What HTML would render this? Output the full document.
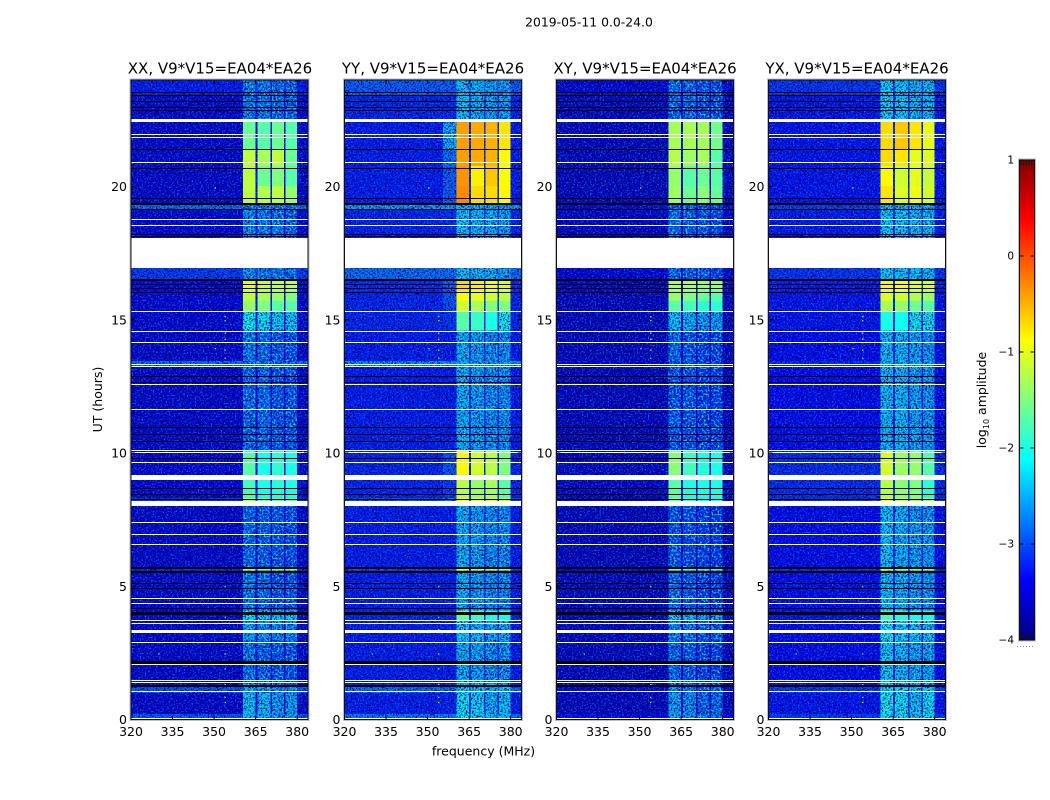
<!DOCTYPE html>
<html>
<head>
<meta charset="utf-8">
<title>2019-05-11 0.0-24.0</title>
<style>
html,body{margin:0;padding:0;background:#fff;}
svg{display:block;font-family:"DejaVu Sans","Liberation Sans",sans-serif;fill:#000;}
</style>
</head>
<body>
<svg id="chart" xmlns="http://www.w3.org/2000/svg" width="1050" height="800" viewBox="0 0 1050 800">
<defs>
<filter id="speck-dark" x="0" y="0" width="1" height="1" color-interpolation-filters="sRGB">
<feTurbulence type="fractalNoise" baseFrequency="0.62" numOctaves="2" seed="4"/>
<feColorMatrix type="matrix" values="0 0 0 0 0  0 0 0 0 0  0 0 0 0 0.42  4.5 0 0 0 -2.05"/>
<feComposite in2="SourceAlpha" operator="in"/>
</filter>
<filter id="speck-bright" x="0" y="0" width="1" height="1" color-interpolation-filters="sRGB">
<feTurbulence type="fractalNoise" baseFrequency="0.62" numOctaves="2" seed="19"/>
<feColorMatrix type="matrix" values="0 0 0 0 0  0 0 0 0 0.38  0 0 0 0 1  0 4.5 0 0 -2.35"/>
<feComposite in2="SourceAlpha" operator="in"/>
</filter>
<filter id="speck-cyan" x="0" y="0" width="1" height="1" color-interpolation-filters="sRGB">
<feTurbulence type="fractalNoise" baseFrequency="0.5" numOctaves="2" seed="31"/>
<feColorMatrix type="matrix" values="0 0 0 0 0  0 0 0 0 0.85  0 0 0 0 0.95  0 5 0 0 -2.6"/>
<feComposite in2="SourceAlpha" operator="in"/>
</filter>
</defs>
<text x="589" y="26.5" font-size="12.4" text-anchor="middle">2019-05-11 0.0-24.0</text>
<text x="483.5" y="755.5" font-size="12.5" text-anchor="middle">frequency (MHz)</text>
<text x="0" y="0" font-size="12.5" text-anchor="middle" transform="translate(102,399.5) rotate(-90)">UT (hours)</text>
<text x="0" y="0" font-size="12.5" text-anchor="middle" transform="translate(986,400) rotate(-90)">log<tspan font-size="8" dy="3">10</tspan><tspan dy="-3"> amplitude</tspan></text>
</svg>
<script>
// Frequency channel boundaries (MHz) and the band each column belongs to.
const freqEdges = [320, 355.5, 360.5, 365, 365.7, 370.3, 370.9, 375.2, 375.8, 380, 383.8];
const columnKinds = ['bg', 'shoulder', 'b0', 'gap', 'b1', 'gap', 'b2', 'gap', 'b3', 'bg'];

// Time row boundaries (UT hours).
const rowEdges = [0, .2, 1, 1.27, 2.96, 3.71, 4.09, 5.59, 5.7, 8.1, 8.32, 9, 9.19, 10.09, 13.24, 13.46, 14.59, 15.34, 15.71, 16.09, 16.54, 16.95, 18.08, 19.16, 19.35, 20.02, 20.77, 21.41, 22.42, 23.4, 24];

// log10 amplitude of the out-of-band background, per time row.
const xxBackground = [-2.9, -3.6, -2.9, -3.6, -3.6, -3.55, -3.6, -3.1, -3.6, -3.1, -3.55, -3.55, -3.55, -3.6, -2.75, -3.6, -3.55, -3.55, -3.55, -3.5, -3.05, -3.4, -3.55, -2.75, -3.6, -3.6, -3.6, -3.6, -3.55, -3.25];
const yyBackground = [-2.7, -3.25, -2.75, -3.25, -3.25, -3.2, -3.25, -2.9, -3.25, -2.9, -3.2, -3.2, -3.2, -3.25, -2.55, -3.25, -3.2, -3.2, -3.2, -3.15, -2.75, -3.1, -3.2, -2.5, -3.25, -3.25, -3.25, -3.25, -3.2, -2.85];
const xyBackground = [-3.4, -3.7, -3.5, -3.7, -3.7, -3.7, -3.7, -3.35, -3.7, -3.45, -3.65, -3.65, -3.65, -3.7, -3.55, -3.7, -3.7, -3.7, -3.7, -3.65, -3.55, -3.6, -3.65, -3.45, -3.7, -3.7, -3.7, -3.7, -3.65, -3.55];
const yxBackground = [-3.05, -3.3, -3.05, -3.35, -3.35, -3.3, -3.35, -3.05, -3.35, -3.1, -3.15, -3.15, -3.15, -3.35, -3.15, -3.35, -3.3, -3.3, -3.3, -3.25, -3.1, -3.2, -3.25, -3.05, -3.3, -3.3, -3.3, -3.3, -3.3, -3.1];

// Shoulder below the band in YY (only differs from background in the strong hours).
const yyShoulder = [-2.7, -3.2, -2.75, -3.25, -3.25, -3.15, -3.25, -2.9, -3.25, -2.75, -3.05, -3.05, -2.9, -3.25, -2.55, -3.25, -3.1, -2.95, -2.9, -2.8, -2.75, -3.1, -3.15, -2.5, -2.85, -2.85, -2.75, -2.4, -3.2, -2.85];

// log10 amplitude of the four in-band blocks, per time row.
const xxBands = [[-2.4,-2.45,-2.65,-2.6],[-2.4,-2.45,-2.65,-2.6],[-2.5,-2.6,-2.7,-2.6],[-2.8,-2.9,-3,-3],[-2.55,-2.65,-2.75,-2.75],[-2.2,-2.3,-2.4,-2.3],[-2.8,-2.9,-3,-3],[-1.2,-1.5,-1.6,-1.6],[-2.9,-2.95,-3,-3.05],[-1.3,-1.6,-1.7,-1.7],[-1.8,-2,-1.95,-2],[-1.8,-2,-1.95,-2],[-1.7,-2,-1.9,-2],[-2.9,-2.9,-3,-3],[-2.85,-2.85,-2.95,-2.95],[-2.8,-2.9,-3,-3],[-2.1,-2.2,-2.35,-2.35],[-1.4,-1.5,-1.7,-1.7],[-1.2,-1.3,-1.4,-1.5],[-1,-1.1,-1.2,-1.2],[-2.7,-2.8,-2.8,-2.9],[-2.7,-2.8,-2.8,-2.9],[-2.7,-2.8,-2.8,-2.9],[-2.8,-2.8,-2.9,-2.9],[-1.2,-1.25,-1.2,-1.4],[-1.2,-1.6,-1.5,-1.7],[-1.2,-1.3,-1.2,-1.6],[-1.6,-1.7,-1.6,-1.7],[-2.8,-2.8,-2.9,-2.9],[-2.75,-2.8,-2.85,-2.9]];
const yyBands = [[-2.15,-2.25,-2.4,-2.4],[-2.2,-2.3,-2.5,-2.4],[-2.3,-2.4,-2.5,-2.4],[-2.5,-2.6,-2.7,-2.7],[-2.35,-2.45,-2.55,-2.55],[-1.6,-1.8,-2,-2],[-2.5,-2.6,-2.7,-2.7],[-.9,-1.2,-1.3,-1.3],[-2.5,-2.6,-2.7,-2.7],[-.9,-1,-1.1,-1.1],[-1.2,-1.4,-1.3,-1.7],[-1.2,-1.4,-1.3,-1.7],[-.85,-1.1,-1.2,-1.5],[-2.5,-2.6,-2.7,-2.7],[-2.5,-2.6,-2.7,-2.7],[-2.5,-2.6,-2.7,-2.7],[-1.7,-1.85,-2,-2.1],[-1.1,-1.3,-1.5,-1.5],[-.9,-1,-1.1,-1.2],[-.7,-.8,-.9,-1],[-2.4,-2.5,-2.5,-2.6],[-2.4,-2.5,-2.5,-2.6],[-2.4,-2.5,-2.5,-2.6],[-2.5,-2.5,-2.6,-2.6],[-.3,-.7,-.7,-.85],[-.35,-.8,-.6,-.9],[-.4,-.45,-.5,-.85],[-.4,-.45,-.5,-.75],[-2.4,-2.5,-2.6,-2.6],[-2.4,-2.5,-2.6,-2.6]];
const xyBands = [[-2.55,-2.65,-2.85,-2.85],[-2.6,-2.7,-2.9,-2.9],[-2.65,-2.75,-2.9,-2.9],[-2.9,-3,-3.1,-3.1],[-2.75,-2.85,-2.95,-2.95],[-2.35,-2.45,-2.55,-2.55],[-2.9,-3,-3.1,-3.1],[-1.5,-1.8,-1.9,-1.9],[-3,-3.05,-3.1,-3.15],[-1.6,-1.8,-2,-2],[-1.7,-2,-2,-2],[-1.7,-2,-2,-2],[-1.45,-1.8,-1.95,-2],[-3,-3,-3.1,-3.1],[-3,-3,-3.1,-3.1],[-2.9,-3,-3.1,-3.1],[-2.4,-2.5,-2.6,-2.6],[-1.7,-1.8,-1.9,-1.9],[-1.4,-1.5,-1.6,-1.7],[-1.25,-1.3,-1.4,-1.4],[-2.85,-2.95,-2.95,-3.05],[-2.85,-2.95,-2.95,-3.05],[-2.85,-2.95,-2.95,-3.05],[-2.95,-2.95,-3.05,-3.05],[-1.35,-1.6,-1.45,-1.65],[-1.4,-1.7,-1.6,-1.7],[-1.25,-1.35,-1.3,-1.7],[-1.3,-1.3,-1.3,-1.55],[-2.9,-2.9,-3,-3],[-2.9,-2.9,-3,-3]];
const yxBands = [[-2.1,-2.2,-2.4,-2.2],[-2.1,-2.2,-2.4,-2.2],[-2.15,-2.25,-2.35,-2.25],[-2.35,-2.45,-2.55,-2.55],[-2.1,-2.3,-2.4,-2.4],[-1.75,-1.95,-2,-2],[-2.4,-2.5,-2.6,-2.65],[-1.15,-1.4,-1.45,-1.5],[-2.4,-2.5,-2.6,-2.65],[-1,-1.1,-1.3,-1.4],[-1.25,-1.45,-1.5,-1.9],[-1.25,-1.45,-1.5,-1.9],[-1.1,-1.35,-1.4,-1.7],[-2.45,-2.45,-2.55,-2.65],[-2.45,-2.45,-2.55,-2.65],[-2.45,-2.45,-2.55,-2.65],[-2,-2.05,-2.15,-2.2],[-1.3,-1.4,-1.6,-1.7],[-1.05,-1.1,-1.25,-1.35],[-.85,-.9,-1,-1.05],[-2.35,-2.4,-2.45,-2.45],[-2.35,-2.4,-2.45,-2.45],[-2.35,-2.4,-2.45,-2.45],[-2.4,-2.45,-2.5,-2.5],[-.75,-1.05,-.95,-1.1],[-.85,-1.1,-1,-1.15],[-.7,-.75,-1,-1.05],[-.7,-.6,-.75,-1],[-2.3,-2.35,-2.45,-2.45],[-2.3,-2.35,-2.45,-2.45]];

// Missing data intervals (UT hours) rendered white.
const whiteGapStarts = [0, 1.01, 1.36, 1.43, 2.03, 2.85, 3.25, 3.6, 3.68, 4.31, 4.5, 6.52, 6.93, 7.35, 8.02, 9, 9.6, 10.01, 10.09, 11.62, 12.53, 13.21, 13.29, 14.11, 14.54, 15.29, 16.96, 18.52, 18.73, 20.86, 21.82, 21.93, 22.42];
const whiteGapEnds = [.05, 1.06, 1.41, 1.47, 2.08, 2.9, 3.35, 3.64, 3.72, 4.36, 4.55, 6.57, 6.98, 7.4, 8.19, 9.19, 9.65, 10.05, 10.13, 11.67, 12.58, 13.26, 13.33, 14.16, 14.59, 15.34, 18.08, 18.57, 18.78, 20.91, 21.87, 21.98, 22.53];

// Flagged intervals (UT hours) rendered black.
const blackFlagStarts = [1.24, 2.1, 3.94, 4.13, 4.91, 5.07, 5.52, 5.63, 8.24, 8.44, 8.63, 9.79, 10.43, 10.69, 10.95, 12.64, 12.85, 16.02, 16.17, 16.32, 16.46, 18.1, 18.19, 19.15, 19.3, 19.53, 20.67, 21.38, 22.85, 22.94, 23.16, 23.4, 23.5];
const blackFlagEnds = [1.3, 2.2, 4.04, 4.17, 4.93, 5.11, 5.59, 5.71, 8.28, 8.48, 8.67, 9.83, 10.47, 10.73, 10.99, 12.68, 12.89, 16.06, 16.21, 16.36, 16.54, 18.14, 18.23, 19.17, 19.38, 19.57, 20.71, 21.42, 22.89, 22.98, 23.2, 23.44, 23.54];

// Isolated bright RFI samples near 354 MHz: frequency, UT hours and log10 amplitude.
const spotFreqs = [354, 354, 354, 354, 354, 354, 354, 354, 354, 354, 354, 354, 354, 354, 350.5, 330, 350.4];
const spotHours = [15.12, 14.97, 14.5, 14.27, 13.86, 13.56, 4.99, 3.83, 3.37, 2.46, 1.9, 1.31, .83, .64, 13.92, 2.46, 19.95];
const spotValues = [-1.6, -1.6, -1.5, -1.2, -1.6, -1.7, -1.7, -1.7, -1.6, -1.5, -1.7, -1.7, -1.4, -1.4, -1.8, -1.8, -1.3];

// Axis ticks.
const freqTicks = [320, 335, 350, 365, 380];
const hourTicks = [0, 5, 10, 15, 20];
const colorbarTicks = [1, 0, -1, -2, -3, -4];
const colorbarTickLabels = ['1', '0', '\u22121', '\u22122', '\u22123', '\u22124'];

// Panels.
const panelTitles = ['XX, V9*V15=EA04*EA26', 'YY, V9*V15=EA04*EA26', 'XY, V9*V15=EA04*EA26', 'YX, V9*V15=EA04*EA26'];
const panelKeys = ['xx', 'yy', 'xy', 'yx'];
const panelBackgrounds = [xxBackground, yyBackground, xyBackground, yxBackground];
const panelShoulders = [xxBackground, yyShoulder, xyBackground, yxBackground];
const panelBands = [xxBands, yyBands, xyBands, yxBands];

const NS = 'http://www.w3.org/2000/svg';
const svg = document.getElementById('chart');
const panelLefts = [131, 344.5, 556.5, 768.5];
const panelWidth = 177;
const plotTop = 80;
const plotBottom = 719.5;
const barLeft = 1019.5, barRight = 1034.5, barTop = 160, barBottom = 640;

function xScale(freq, left) { return left + (freq - 320) * panelWidth / 63.9; }
function yScale(hour) { return plotBottom - hour * (plotBottom - plotTop) / 24; }
function barScale(v) { return barTop + (1 - v) * (barBottom - barTop) / 5; }

function jet(v) {
  const t = Math.max(0, Math.min(1, (v + 4) / 5));
  const ch = function (c) { return Math.round(255 * Math.max(0, Math.min(1, 1.5 - Math.abs(4 * t - c)))); };
  return 'rgb(' + ch(3) + ',' + ch(2) + ',' + ch(1) + ')';
}

function make(tag, attrs, parent) {
  const el = document.createElementNS(NS, tag);
  for (const k in attrs) el.setAttribute(k, attrs[k]);
  parent.appendChild(el);
  return el;
}

// Pixel-snapped horizontal band between two UT hours, so thin rows stay solid.
function rowBox(start, end, left) {
  const top = Math.round(yScale(end));
  const height = Math.max(1, Math.round(yScale(start) - yScale(end)));
  return { x: left, y: top, width: panelWidth, height: height };
}

panelTitles.forEach(function (title, p) {
  const left = panelLefts[p];
  const key = panelKeys[p];
  const g = make('g', {}, svg);
  
  

  const cells = make('g', { 'shape-rendering': 'crispEdges' }, g);
  
  
  const speckDark = make('g', { filter: 'url(#speck-dark)', 'shape-rendering': 'crispEdges' }, g);
  
  
  const speckBright = make('g', { filter: 'url(#speck-bright)', 'shape-rendering': 'crispEdges' }, g);
  
  
  const speckCyan = make('g', { filter: 'url(#speck-cyan)', 'shape-rendering': 'crispEdges' }, g);
  
  

  for (let r = 0; r < rowEdges.length - 1; r++) {
    const y1 = yScale(rowEdges[r + 1]);
    const y0 = yScale(rowEdges[r]);
    const bg = panelBackgrounds[p][r];
    for (let c = 0; c < columnKinds.length; c++) {
      const kind = columnKinds[c];
      let v = bg;
      let inBand = false;
      if (kind === 'shoulder') v = panelShoulders[p][r];
      if (kind === 'gap') v = bg + 0.15;
      if (kind[0] === 'b' && kind !== 'bg') {
        v = panelBands[p][r][Number(kind[1])];
        inBand = true;
      }
      const x0 = xScale(freqEdges[c], left);
      const x1 = xScale(freqEdges[c + 1], left);
      const box = { x: x0, y: y1, width: x1 - x0, height: y0 - y1 };
      const cell = make('rect', Object.assign({ fill: jet(v) }, box), cells);
      
      
      if (v < -2.05) {
        make('rect', box, speckDark);
        if (inBand) make('rect', box, speckCyan);
        else make('rect', box, speckBright);
      }
    }
  }

  spotHours.forEach(function (h, i) {
    const spot = make('rect', { x: xScale(spotFreqs[i], left) - .6, y: yScale(h) - .6, width: 1.3, height: 1.3, fill: jet(spotValues[i]) }, g);
    
    
  });

  whiteGapStarts.forEach(function (s, i) {
    const gap = make('rect', Object.assign({ fill: '#fff', 'shape-rendering': 'crispEdges' }, rowBox(s, whiteGapEnds[i], left)), g);
    
    
  });

  blackFlagStarts.forEach(function (s, i) {
    const flag = make('rect', Object.assign({ fill: '#000', 'shape-rendering': 'crispEdges' }, rowBox(s, blackFlagEnds[i], left)), g);
    
    
  });

  const halo = make('rect', { x: left - .5, y: plotTop - .5, width: panelWidth + 1, height: plotBottom - plotTop + 1, fill: 'none', stroke: '#bdbdbd', 'stroke-width': 2 }, g);
  
  
  const frame = make('rect', { x: left, y: plotTop, width: panelWidth, height: plotBottom - plotTop, fill: 'none', stroke: '#111', 'stroke-width': 1 }, g);
  
  

  freqTicks.forEach(function (f) {
    const x = xScale(f, left);
    const tickBottom = make('line', { x1: x, x2: x, y1: plotBottom, y2: plotBottom - 4, stroke: '#000' }, g);
    
    
    const tickTop = make('line', { x1: x, x2: x, y1: plotTop, y2: plotTop + 4, stroke: '#000' }, g);
    
    
    const label = make('text', { x: x, y: 736, 'font-size': 12.5, 'text-anchor': 'middle' }, g);
    
    
    label.textContent = f;
  });

  hourTicks.forEach(function (h) {
    const y = yScale(h);
    const tickLeft = make('line', { x1: left, x2: left + 4, y1: y, y2: y, stroke: '#000' }, g);
    
    
    const tickRight = make('line', { x1: left + panelWidth - 4, x2: left + panelWidth, y1: y, y2: y, stroke: '#000' }, g);
    
    
    const label = make('text', { x: left - 4, y: y + 4.5, 'font-size': 12.5, 'text-anchor': 'end' }, g);
    
    
    label.textContent = h;
  });

  const heading = make('text', { x: left + panelWidth / 2 + (p === 0 ? .5 : 0), y: 73.5, 'font-size': 15, 'text-anchor': 'middle' }, g);
  
  
  heading.textContent = title;
});

// Colorbar
const bar = make('g', {}, svg);


const barSteps = 240;
for (let i = 0; i < barSteps; i++) {
  const v = 1 - (i + .5) * 5 / barSteps;
  const seg = make('rect', { x: barLeft, y: barScale(v) - (barBottom - barTop) / barSteps / 2, width: barRight - barLeft, height: (barBottom - barTop) / barSteps + .3, fill: jet(v), 'shape-rendering': 'crispEdges' }, bar);
  
  
}
const barMinorTop = make('line', { x1: barLeft + 1, x2: barRight - 1, y1: barTop + 3, y2: barTop + 3, stroke: '#111', 'stroke-width': 5, 'stroke-dasharray': '1 1.7' }, bar);


const barMinorBottom = make('line', { x1: barLeft + 1, x2: barRight - 1, y1: barBottom - 3, y2: barBottom - 3, stroke: '#111', 'stroke-width': 5, 'stroke-dasharray': '1 1.7' }, bar);


const barHalo = make('rect', { x: barLeft - .5, y: barTop - .5, width: barRight - barLeft + 1, height: barBottom - barTop + 1, fill: 'none', stroke: '#bdbdbd', 'stroke-width': 2 }, bar);


const barFrame = make('rect', { x: barLeft, y: barTop, width: barRight - barLeft, height: barBottom - barTop, fill: 'none', stroke: '#111' }, bar);


colorbarTicks.forEach(function (v, i) {
  const y = barScale(v);
  const tickA = make('line', { x1: barLeft, x2: barLeft + 4, y1: y, y2: y, stroke: '#000' }, bar);
  
  
  const tickB = make('line', { x1: barRight - 4, x2: barRight, y1: y, y2: y, stroke: '#000' }, bar);
  
  
  const label = make('text', { x: 1014, y: y + 3.5, 'font-size': 10.5, 'text-anchor': 'end' }, bar);
  
  
  label.textContent = colorbarTickLabels[i];
});
const barDots = make('line', { x1: 1017, x2: 1035, y1: 646.5, y2: 646.5, stroke: '#888', 'stroke-width': 1, 'stroke-dasharray': '1 2' }, bar);


</script>
</body>
</html>
